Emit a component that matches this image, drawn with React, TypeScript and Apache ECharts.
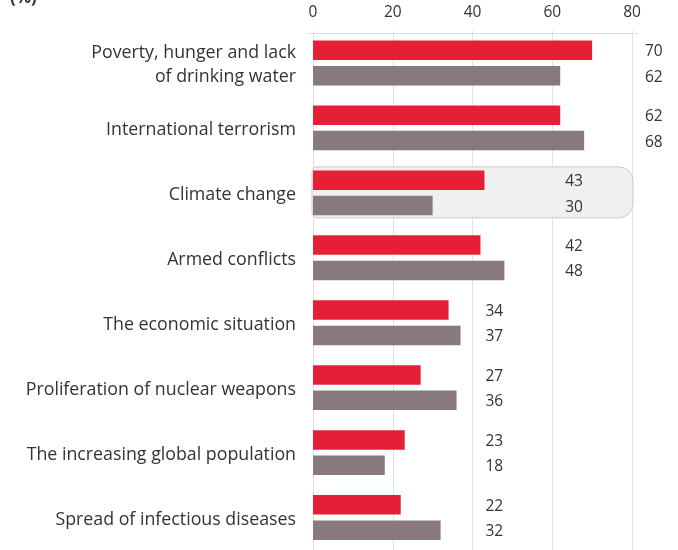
import React, { useEffect, useRef } from "react";
import * as echarts from "echarts";

const categories = [
  "Poverty, hunger and lack\nof drinking water",
  "International terrorism",
  "Climate change",
  "Armed conflicts",
  "The economic situation",
  "Proliferation of nuclear weapons",
  "The increasing global population",
  "Spread of infectious diseases",
];
const redValues = [70, 62, 43, 42, 34, 27, 23, 22];
const grayValues = [62, 68, 30, 48, 37, 36, 18, 32];
const tickValues = [0, 20, 40, 60, 80];
const highlightIndex = 2;

const RED = "#e52036";
const GRAY = "#887a7c";
const TEXT = "#333333";
const FONT = "'Open Sans', sans-serif";

export default function App() {
  const ref = useRef<HTMLDivElement>(null);
  useEffect(() => {
    if (!ref.current) return;
    const chart = echarts.init(ref.current, undefined, { renderer: "svg" });
    const step = tickValues[1] - tickValues[0];
    const anchors = categories.map(
      (_, i) => Math.ceil(Math.max(redValues[i], grayValues[i]) / step) * step
    );
    const max = tickValues[tickValues.length - 1];
    const padLabel = (src: number[]) => ({
      show: true,
      position: "right" as const,
      distance: 13,
      color: TEXT,
      fontSize: 15.5,
      fontFamily: FONT,
      formatter: (p: any) => String(src[p.dataIndex]),
    });
    chart.setOption({
      animation: false,
      grid: { left: 313, right: 46, top: 30.5, height: 523, containLabel: false },
      graphic: [
        {
          type: "text",
          left: 10,
          top: -12,
          style: { text: "(%)", fontSize: 17, fontWeight: "bold", fill: TEXT, fontFamily: FONT },
        },
        {
          type: "line",
          shape: { x1: 307, y1: 33.5, x2: 638, y2: 33.5 },
          style: { stroke: "#dcdcdc", lineWidth: 1 },
          z: 0,
        },
      ],
      xAxis: {
        type: "value",
        position: "top",
        min: 0,
        max,
        interval: step,
        axisLine: { show: false },
        axisTick: { show: false },
        axisLabel: { color: TEXT, fontSize: 15.5, fontFamily: FONT, margin: 12 },
        splitLine: { show: true, lineStyle: { color: "#e2e2e2", width: 1 } },
      },
      yAxis: {
        type: "category",
        inverse: true,
        data: categories,
        axisLine: { show: false },
        axisTick: { show: false },
        axisLabel: {
          color: TEXT,
          fontSize: 17.8,
          fontFamily: FONT,
          margin: 17,
          lineHeight: 24,
          align: "right",
        },
      },
      series: [
        {
          type: "custom",
          z: 1,
          silent: true,
          data: [[0, highlightIndex, max]],
          renderItem: (params: any, api: any) => {
            const p0 = api.coord([api.value(0), api.value(1)]);
            const p1 = api.coord([api.value(2), api.value(1)]);
            const h = 51;
            return {
              type: "rect",
              shape: { x: p0[0] - 1, y: p0[1] - h / 2 - 0.5, width: p1[0] - p0[0] + 2, height: h, r: [5, 14, 14, 5] },
              style: { fill: "#f0f0f0", stroke: "#c9c9c9", lineWidth: 1 },
            };
          },
        },
        {
          name: "red",
          type: "bar",
          stack: "r",
          data: redValues,
          barWidth: 19.5,
          barGap: "30%",
          z: 2,
          itemStyle: { color: RED },
        },
        {
          name: "redPad",
          type: "bar",
          stack: "r",
          data: anchors.map((a, i) => a - redValues[i]),
          barWidth: 19.5,
          barGap: "30%",
          itemStyle: { color: "transparent" },
          label: padLabel(redValues),
          silent: true,
        },
        {
          name: "gray",
          type: "bar",
          stack: "g",
          data: grayValues,
          barWidth: 19.5,
          barGap: "30%",
          z: 2,
          itemStyle: { color: GRAY },
        },
        {
          name: "grayPad",
          type: "bar",
          stack: "g",
          data: anchors.map((a, i) => a - grayValues[i]),
          barWidth: 19.5,
          barGap: "30%",
          itemStyle: { color: "transparent" },
          label: padLabel(grayValues),
          silent: true,
        },
      ],
    });
    return () => chart.dispose();
  }, []);
  return <div ref={ref} style={{ position: "fixed", left: 0, top: 0, width: 678, height: 550 }} />;
}
